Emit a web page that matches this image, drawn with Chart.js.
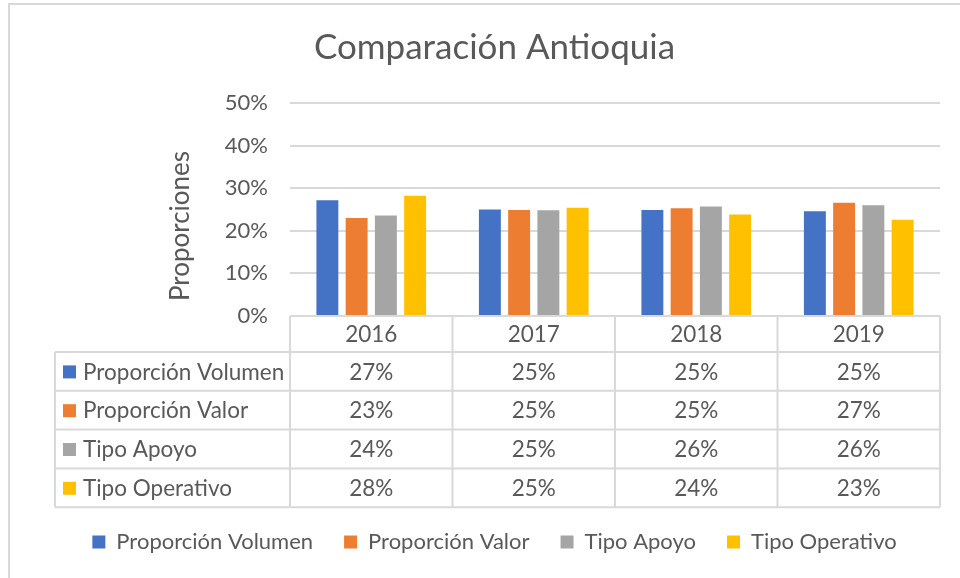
<!DOCTYPE html>
<html>
<head>
<meta charset="utf-8">
<script src="https://cdn.jsdelivr.net/npm/chart.js@4"></script>
<style>
  html, body { margin: 0; padding: 0; background: #fff; }
</style>
</head>
<body>
<canvas id="chart" width="960" height="578"></canvas>
<script>
// values (percent)
const years = ["2016", "2017", "2018", "2019"];
const seriesNames = ["Proporción Volumen", "Proporción Valor", "Tipo Apoyo", "Tipo Operativo"];
const volumen = [27.2, 25.0, 24.9, 24.6];
const valor = [23.0, 24.9, 25.3, 26.6];
const apoyo = [23.6, 24.8, 25.7, 26.0];
const operativo = [28.2, 25.4, 23.8, 22.6];
const seriesColors = ["#4472C4", "#ED7D31", "#A5A5A5", "#FFC000"];
const yTicks = [0, 10, 20, 30, 40, 50];

const allSeries = [volumen, valor, apoyo, operativo];
const FONT = "Lato";
const TEXT = "#595959";
const LINE = "#d9d9d9";

const headerH = 36;   // year row under the plot
const rowH = 38.8;    // one row per series
const tableLeft = 55;

// frame round the chart + data table under the plot
const tablePlugin = {
    id: "dataTable",
    beforeDraw(chart) {
        const ctx = chart.ctx;
        ctx.save();
        ctx.strokeStyle = LINE;
        ctx.lineWidth = 2;
        ctx.beginPath();
        ctx.moveTo(9, 578); ctx.lineTo(9, 4); ctx.lineTo(960, 4);
        ctx.stroke();
        ctx.restore();
    },
    afterDraw(chart) {
        const ctx = chart.ctx;
        const x = chart.scales.x;
        const area = chart.chartArea;
        const half = (x.getPixelForValue(1) - x.getPixelForValue(0)) / 2;
        const top = area.bottom;
        const bottom = top + headerH + rowH * allSeries.length;

        ctx.save();
        ctx.strokeStyle = LINE;
        ctx.lineWidth = 2;
        ctx.beginPath();
        // header row
        ctx.moveTo(area.left, top); ctx.lineTo(area.right, top);
        // column lines
        for (let i = 0; i <= years.length; i++) {
            const px = i < years.length ? x.getPixelForValue(i) - half : x.getPixelForValue(years.length - 1) + half;
            ctx.moveTo(px, top); ctx.lineTo(px, bottom);
        }
        ctx.moveTo(tableLeft, top + headerH); ctx.lineTo(tableLeft, bottom);
        for (let r = 0; r <= allSeries.length; r++) {
            const py = top + headerH + r * rowH;
            ctx.moveTo(tableLeft, py); ctx.lineTo(area.right, py);
        }
        ctx.stroke();

        ctx.font = "22.5px " + FONT;
        ctx.fillStyle = TEXT;
        ctx.textBaseline = "middle";
        ctx.textAlign = "center";
        years.forEach((y, i) => {
            ctx.fillText(y, x.getPixelForValue(i), top + headerH / 2 + 1);
        });
        allSeries.forEach((vals, r) => {
            const cy = top + headerH + r * rowH + rowH / 2 + 1;
            ctx.textAlign = "center";
            ctx.fillStyle = TEXT;
            vals.forEach((v, i) => {
                ctx.fillText(Math.round(v) + "%", x.getPixelForValue(i), cy);
            });
            ctx.fillStyle = seriesColors[r];
            ctx.fillRect(63, cy - 7, 13, 13);
            ctx.fillStyle = TEXT;
            ctx.textAlign = "left";
            ctx.fillText(seriesNames[r], 83, cy);
        });

        // y axis title
        ctx.font = "26px " + FONT;
        ctx.translate(181, 226);
        ctx.rotate(-Math.PI / 2);
        ctx.textAlign = "center";
        ctx.fillText("Proporciones", 0, 0);
        ctx.restore();
    }
};

new Chart(document.getElementById("chart"), {
    type: "bar",
    data: {
        labels: years,
        datasets: allSeries.map((vals, i) => ({
            label: seriesNames[i],
            data: vals,
            backgroundColor: seriesColors[i],
            borderWidth: 0,
            categoryPercentage: 0.72,
            barPercentage: 0.75
        }))
    },
    options: {
        responsive: false,
        devicePixelRatio: 1,
        animation: false,
        layout: { padding: { top: 0, left: 49, right: 20, bottom: 15 } },
        plugins: {
            title: {
                display: true,
                text: "Comparación Antioquia",
                color: TEXT,
                font: { family: FONT, size: 35, weight: "normal" },
                padding: { top: 27, bottom: 34 }
            },
            legend: {
                position: "bottom",
                labels: {
                    boxWidth: 13,
                    boxHeight: 13,
                    padding: 31,
                    color: TEXT,
                    font: { family: FONT, size: 22 }
                }
            },
            tooltip: { enabled: false }
        },
        scales: {
            x: {
                ticks: { display: false },
                grid: { display: false },
                border: { display: false },
                afterFit(scale) { scale.height = 184; }
            },
            y: {
                min: yTicks[0],
                max: yTicks[yTicks.length - 1],
                afterBuildTicks(scale) { scale.ticks = yTicks.map(v => ({ value: v })); },
                ticks: {
                    padding: 22,
                    color: TEXT,
                    font: { family: FONT, size: 22 },
                    callback: v => v + "%"
                },
                grid: { color: LINE, lineWidth: 2, drawTicks: false },
                border: { display: false },
                afterFit(scale) { scale.width = 241; }
            }
        }
    },
    plugins: [tablePlugin]
});
</script>
</body>
</html>
